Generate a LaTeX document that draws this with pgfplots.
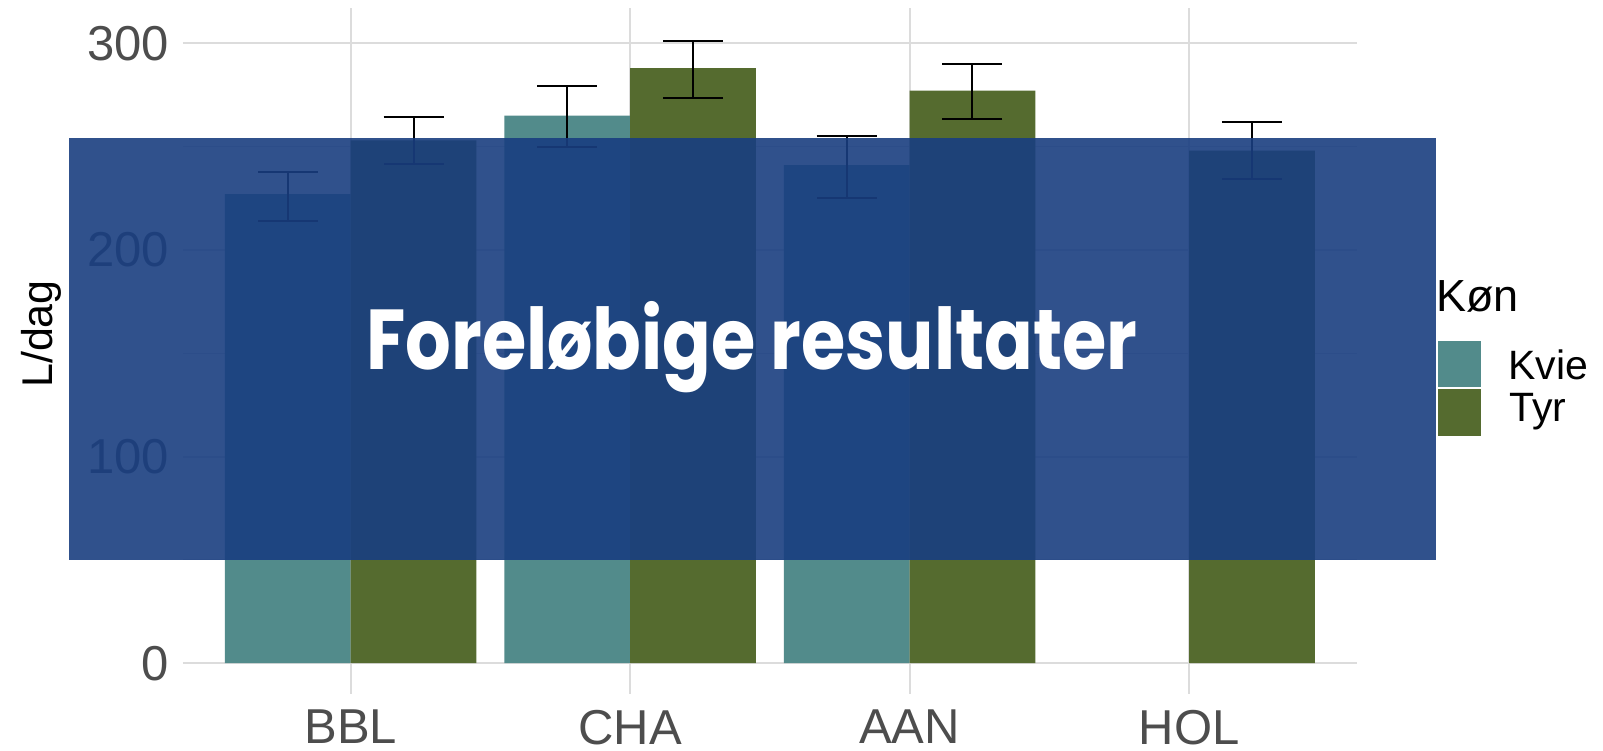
\documentclass[border=0pt]{standalone}
\usepackage{pgfplots}
\pgfplotsset{compat=1.18}
\usepackage{graphicx}
\usepackage{fontspec}
\setmainfont{Liberation Sans}
\newfontfamily\popfont{Poppins}
\definecolor{kvie}{RGB}{82,139,139}
\definecolor{tyr}{RGB}{85,107,47}
\definecolor{overlayc}{RGB}{25,62,128}
\definecolor{gridc}{RGB}{220,220,220}
\definecolor{tickc}{RGB}{77,77,77}
\begin{document}
\begin{tikzpicture}[x=1pt,y=1pt]
\useasboundingbox (0,0) rectangle (1603,751);
\begin{axis}[
  at={(183pt,57pt)}, anchor=south west,
  scale only axis, width=1173.7pt, height=685.7pt,
  xmin=0.4, xmax=4.6, ymin=-14.9, ymax=316.9,
  axis line style={draw=none},
  xtick={1,2,3,4}, xticklabels={BBL,CHA,AAN,HOL},
  ytick={0,100,200,300}, minor ytick={50,150,250},
  major tick length=0pt, minor tick length=0pt,
  xmajorgrids, ymajorgrids, yminorgrids,
  major grid style={gridc, line width=2pt},
  minor grid style={gridc, line width=1pt},
  /pgf/number format/assume math mode=true,
  tick label style={font=\fontsize{49}{55}\selectfont, text=tickc, inner sep=0pt},
  xticklabel shift=16pt, yticklabel shift=14pt,
  ylabel={L/dag},
  ylabel style={font=\fontsize{43}{50}\selectfont, at={(axis description cs:-0.111,0.525)}, anchor=base, rotate=0},
  ybar, bar width=0.45,
  error bars/y dir=both, error bars/y explicit,
  error bars/error bar style={black, line width=2pt},
  error bars/error mark options={black, line width=2pt, mark size=30pt, rotate=90},
]
\addplot[fill=kvie, draw=none, bar shift=-62.9pt] coordinates {
  (1,227) += (0,10.5) -= (0,13)
  (2,265) += (0,14.5) -= (0,15.2)
  (3,241) += (0,14) -= (0,16)
};
\addplot[fill=tyr, draw=none, bar shift=62.9pt] coordinates {
  (1,253) += (0,11.2) -= (0,11.4)
  (2,288) += (0,13) -= (0,14.6)
  (3,277) += (0,12.8) -= (0,13.8)
  (4,248) += (0,14.1) -= (0,13.7)
};
\end{axis}
\fill[overlayc, opacity=0.9] (68.5,191) rectangle (1436.3,613);
\node[text=white, anchor=base, inner sep=0pt] at (752,381.7) {\scalebox{0.845}[1]{\popfont\bfseries\fontsize{85}{90}\selectfont Foreløbige resultater}};
% legend
\node[anchor=base west, inner sep=0pt] at (1436,439) {\fontsize{45}{50}\selectfont Køn};
\fill[kvie] (1438,364) rectangle (1481,410);
\fill[tyr] (1438,315) rectangle (1481,362);
\node[anchor=base west, inner sep=0pt] at (1508,371) {\fontsize{41}{46}\selectfont Kvie};
\node[anchor=base west, inner sep=0pt] at (1509,329.3) {\fontsize{41}{46}\selectfont Tyr};
\end{tikzpicture}
\end{document}
